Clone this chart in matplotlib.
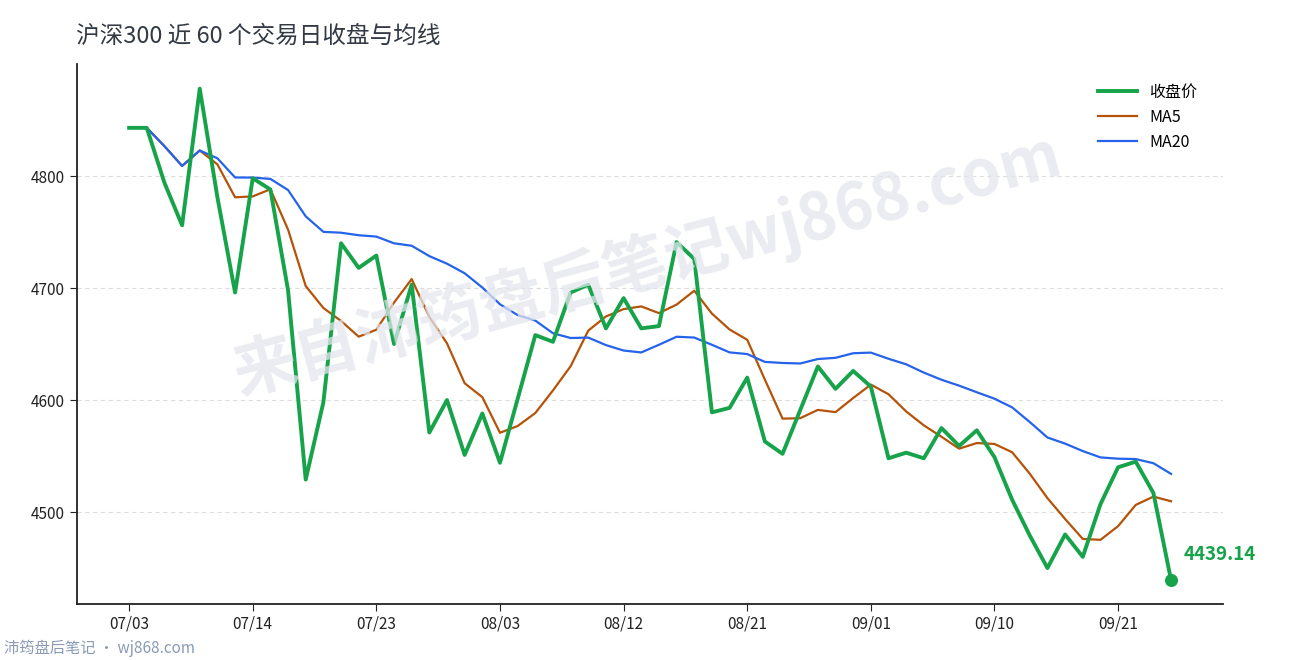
import matplotlib

matplotlib.use("Agg")
import matplotlib.pyplot as plt
import numpy as np
import pandas as pd

plt.rcParams["font.family"] = ["Noto Sans CJK SC", "DejaVu Sans"]

GREEN = "#16a34a"
ORANGE = "#b45309"
BLUE = "#2563eb"
INK = "#333a44"

TICK_LABELS = ["07/03", "07/14", "07/23", "08/03", "08/12", "08/21", "09/01", "09/10", "09/21"]
CLOSE = [
    4843, 4843, 4794, 4756, 4878, 4781, 4696, 4798, 4788, 4698,
    4529, 4598, 4740, 4718, 4729, 4650, 4703, 4571, 4600, 4551,
    4588, 4544, 4601, 4658, 4652, 4696, 4703, 4664, 4691, 4664,
    4666, 4741, 4726, 4589, 4593, 4620, 4563, 4552, 4591, 4630,
    4610, 4626, 4612, 4548, 4553, 4548, 4575, 4559, 4573, 4549,
    4511, 4479, 4450, 4480, 4460, 4507, 4540, 4545, 4517, 4439.14,
]

close = pd.Series(CLOSE)
ma5 = close.rolling(5, min_periods=1).mean()
ma20 = close.rolling(20, min_periods=1).mean()
x = np.arange(len(close))

fig = plt.figure(figsize=(12.9, 6.6), dpi=100)
ax = fig.add_axes([0.0597, 0.085, 0.8885, 0.818])

ax.plot(x, close, color=GREEN, lw=2.8, label="收盘价", zorder=4)
ax.plot(x, ma5, color=ORANGE, lw=1.6, label="MA5", zorder=3)
ax.plot(x, ma20, color=BLUE, lw=1.6, label="MA20", zorder=3)
ax.scatter([x[-1]], [CLOSE[-1]], s=70, color=GREEN, zorder=5)
ax.annotate(f"{CLOSE[-1]:.2f}", (x[-1], CLOSE[-1]), xytext=(9, 12),
            textcoords="offset points", color=GREEN, fontsize=13.5,
            fontweight="bold", ha="left", va="bottom")

ax.set_xlim(-2.95, 61.95)
ax.set_ylim(4418, 4900)
ax.set_xticks(np.arange(0, 60, 7)[:len(TICK_LABELS)])
ax.set_xticklabels(TICK_LABELS)
ax.set_yticks([4500, 4600, 4700, 4800])
ax.tick_params(labelsize=11, colors="#222222", length=5)
ax.grid(axis="y", ls=(0, (4, 3)), color="#dddddd", lw=0.8)
for s in ("top", "right"):
    ax.spines[s].set_visible(False)
for s in ("left", "bottom"):
    ax.spines[s].set_linewidth(1.3)
    ax.spines[s].set_color("#222222")

leg = ax.legend(loc="upper right", frameon=False, fontsize=11.5,
                bbox_to_anchor=(0.99, 0.99), handlelength=2.4)

fig.text(0.059, 0.945, "沪深300 近 60 个交易日收盘与均线", fontsize=17, color=INK,
         ha="left", va="center")
fig.text(0.502, 0.6, "来自沛筠盘后笔记wj868.com", fontsize=46, fontweight="bold",
         color="#e3e6ee", alpha=0.75, rotation=15, ha="center", va="center", zorder=0)
fig.text(0.003, 0.018, "沛筠盘后笔记 · wj868.com", fontsize=11, color="#8a9ab5",
         ha="left", va="center")

fig.savefig("out.png", dpi=100)
